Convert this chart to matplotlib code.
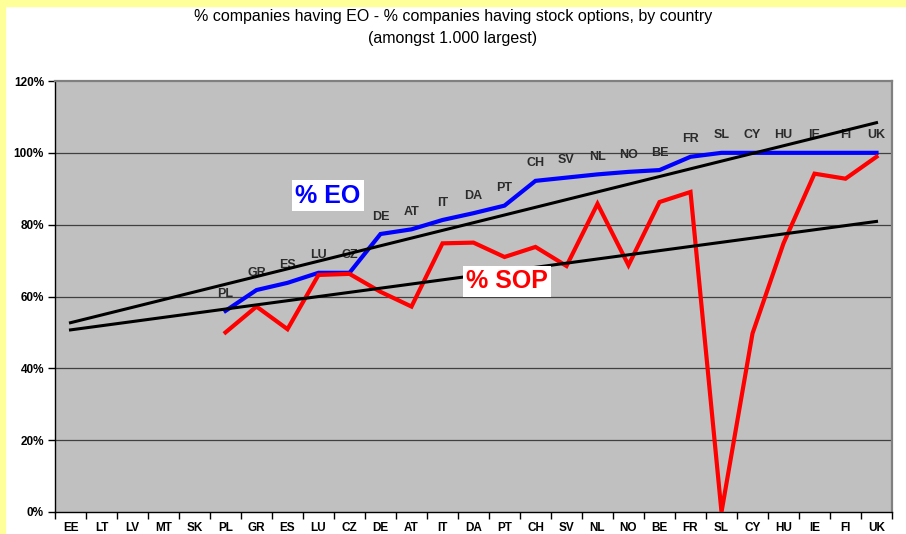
import numpy as np
import matplotlib.pyplot as plt

countries = ['EE', 'LT', 'LV', 'MT', 'SK', 'PL', 'GR', 'ES', 'LU', 'CZ', 'DE', 'AT', 'IT', 'DA',
             'PT', 'CH', 'SV', 'NL', 'NO', 'BE', 'FR', 'SL', 'CY', 'HU', 'IE', 'FI', 'UK']
nan = np.nan
# % companies having employee ownership
eo = [nan, nan, nan, nan, nan, 56.0, 61.8, 63.8, 66.6, 66.6, 77.4, 78.7, 81.3, 83.2,
      85.3, 92.2, 93.1, 94.0, 94.7, 95.2, 98.9, 100, 100, 100, 100, 100, 100]
# % companies having stock options
sop = [nan, nan, nan, nan, nan, 50.0, 57.2, 50.9, 66.0, 66.3, 61.3, 57.2, 74.8, 75.0,
       71.0, 73.8, 68.5, 85.8, 68.7, 86.3, 89.1, 0.0, 49.7, 74.8, 94.2, 92.8, 98.9]
# linear trend lines, value at first (EE) and last (UK) category
eo_trend = [52.7, 108.4]
sop_trend = [50.7, 80.9]

x = np.arange(len(countries))

fig = plt.figure(figsize=(9.06, 5.34), dpi=100)
fig.patch.set_facecolor('white')
plt.rcParams['font.family'] = ['Liberation Sans', 'DejaVu Sans']

# yellow frame on top and left
fig.patches.append(plt.Rectangle((0, 1 - 6 / 534), 1, 6 / 534, transform=fig.transFigure,
                                 color='#FFFF99', zorder=0))
fig.patches.append(plt.Rectangle((0, 0), 5 / 906, 1, transform=fig.transFigure,
                                 color='#FFFF99', zorder=0))

ax = fig.add_axes([55 / 906, 22 / 534, 837 / 906, 431 / 534])
ax.set_facecolor('#C0C0C0')
ax.set_xlim(-0.5, len(countries) - 0.5)
ax.set_ylim(0, 120)

for v in [20, 40, 60, 80, 100]:
    ax.axhline(v, color='#404040', lw=0.9, zorder=1)

ax.plot(x, eo, color='#0000FF', lw=3.0, zorder=3, solid_joinstyle='miter')
ax.plot(x, sop, color='#FF0000', lw=3.0, zorder=3, solid_joinstyle='miter')

for i, c in enumerate(countries):
    if not np.isnan(eo[i]):
        ax.annotate(c, (x[i], eo[i]), xytext=(0, 12.5), textcoords='offset points',
                    ha='center', va='center', fontsize=9, fontweight='bold',
                    color='#2b2b2b', zorder=2)

ax.plot([x[0], x[-1]], eo_trend, color='black', lw=2.2, zorder=4)
ax.plot([x[0], x[-1]], sop_trend, color='black', lw=2.2, zorder=4)

ax.text(8.3, 88.0, '% EO', color='#0000FF', fontsize=18, fontweight='bold',
        ha='center', va='center', zorder=6,
        bbox=dict(facecolor='white', edgecolor='none', pad=2.5))
ax.text(14.08, 64.2, '% SOP', color='#FF0000', fontsize=18, fontweight='bold',
        ha='center', va='center', zorder=6,
        bbox=dict(facecolor='white', edgecolor='none', pad=2.5))

ax.set_yticks([0, 20, 40, 60, 80, 100, 120])
ax.set_yticklabels([f'{v}%' for v in [0, 20, 40, 60, 80, 100, 120]],
                   fontsize=8.5, fontweight='bold')
ax.set_xticks(x)
ax.set_xticklabels(countries, fontsize=8.5, fontweight='bold')
ax.set_xticks(np.arange(-0.5, len(countries)), minor=True)
ax.tick_params(axis='x', which='major', length=0, pad=7)
ax.tick_params(axis='x', which='minor', length=5, width=1, direction='out')
ax.tick_params(axis='y', length=5, width=1, direction='out', pad=3)

for s in ['left', 'bottom']:
    ax.spines[s].set_color('black')
    ax.spines[s].set_linewidth(1)
for s in ['top', 'right']:
    ax.spines[s].set_color('#808080')
    ax.spines[s].set_linewidth(1.6)

fig.text(0.5, 1 - 17 / 534, '% companies having EO - % companies having stock options, by country',
         ha='center', va='center', fontsize=11.5)
fig.text(0.5, 1 - 38 / 534, '(amongst 1.000 largest)', ha='center', va='center', fontsize=11.5)

fig.savefig('out.png', dpi=100)
